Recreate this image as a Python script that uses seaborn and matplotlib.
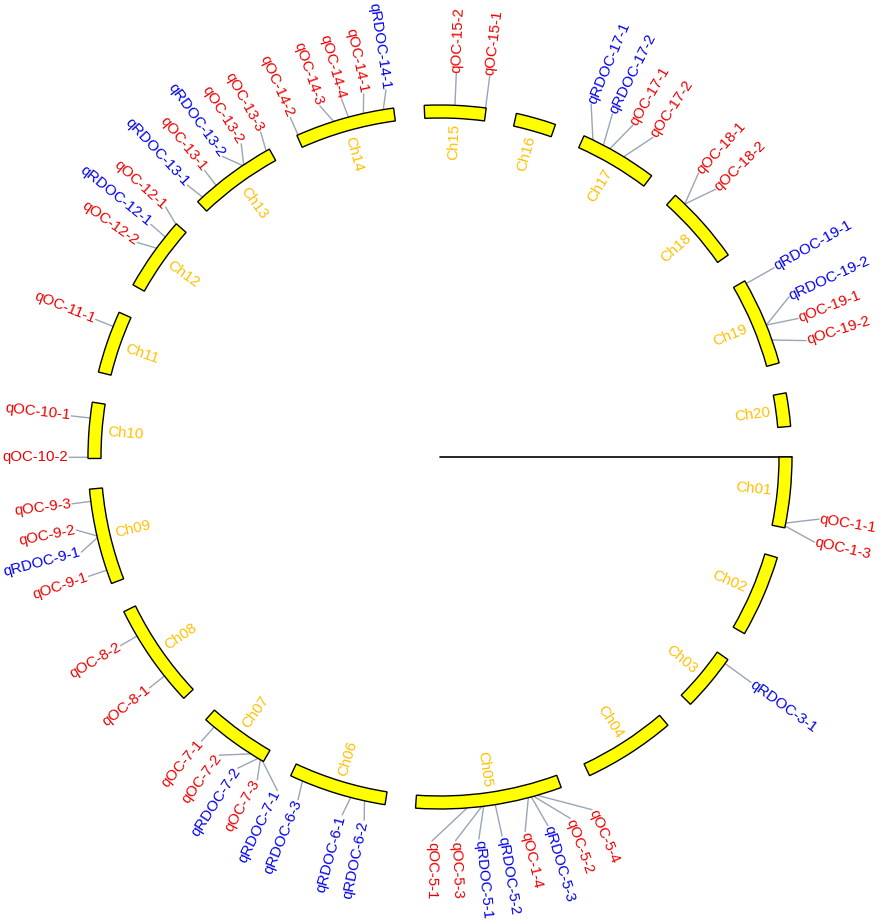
import numpy as np
import pandas as pd
import seaborn as sns
import matplotlib.pyplot as plt
from matplotlib import font_manager
from matplotlib.patches import Wedge

# chromosome lengths (map units) and QTL positions on them
chr_names = ['Ch01', 'Ch02', 'Ch03', 'Ch04', 'Ch05', 'Ch06', 'Ch07', 'Ch08', 'Ch09', 'Ch10',
             'Ch11', 'Ch12', 'Ch13', 'Ch14', 'Ch15', 'Ch16', 'Ch17', 'Ch18', 'Ch19', 'Ch20']
chr_len = [116, 135, 95, 152, 241, 161, 116, 172, 158, 92,
           103, 122, 145, 164, 101, 66, 128, 130, 145, 55]

qtl_names = ['qOC-1-1', 'qOC-1-3',
             'qRDOC-3-1',
             'qOC-5-4', 'qOC-5-2', 'qRDOC-5-3', 'qOC-1-4', 'qRDOC-5-2', 'qRDOC-5-1', 'qOC-5-3', 'qOC-5-1',
             'qRDOC-6-2', 'qRDOC-6-1', 'qRDOC-6-3',
             'qRDOC-7-1', 'qOC-7-3', 'qRDOC-7-2', 'qOC-7-2', 'qOC-7-1',
             'qOC-8-1', 'qOC-8-2',
             'qOC-9-1', 'qRDOC-9-1', 'qOC-9-2', 'qOC-9-3',
             'qOC-10-2', 'qOC-10-1',
             'qOC-11-1',
             'qOC-12-2', 'qRDOC-12-1', 'qOC-12-1',
             'qRDOC-13-1', 'qOC-13-1', 'qRDOC-13-2', 'qOC-13-2', 'qOC-13-3',
             'qOC-14-2', 'qOC-14-3', 'qOC-14-4', 'qOC-14-1', 'qRDOC-14-1',
             'qOC-15-2', 'qOC-15-1',
             'qRDOC-17-1', 'qRDOC-17-2', 'qOC-17-1', 'qOC-17-2',
             'qOC-18-1', 'qOC-18-2',
             'qRDOC-19-1', 'qRDOC-19-2', 'qOC-19-1', 'qOC-19-2']
qtl_chr = ['Ch01', 'Ch01',
           'Ch03',
           'Ch05', 'Ch05', 'Ch05', 'Ch05', 'Ch05', 'Ch05', 'Ch05', 'Ch05',
           'Ch06', 'Ch06', 'Ch06',
           'Ch07', 'Ch07', 'Ch07', 'Ch07', 'Ch07',
           'Ch08', 'Ch08',
           'Ch09', 'Ch09', 'Ch09', 'Ch09',
           'Ch10', 'Ch10',
           'Ch11',
           'Ch12', 'Ch12', 'Ch12',
           'Ch13', 'Ch13', 'Ch13', 'Ch13', 'Ch13',
           'Ch14', 'Ch14', 'Ch14', 'Ch14', 'Ch14',
           'Ch15', 'Ch15',
           'Ch17', 'Ch17', 'Ch17', 'Ch17',
           'Ch18', 'Ch18',
           'Ch19', 'Ch19', 'Ch19', 'Ch19']
qtl_pos = [108, 113,
           8,
           41, 47, 51, 56, 111, 130, 133, 157,
           34, 57, 140,
           2, 6, 10, 24, 98,
           48, 127,
           23, 78, 81, 138,
           2, 66,
           78,
           71, 94, 121,
           11, 40, 94, 96, 139,
           2, 64, 89, 114, 147,
           50, 100,
           16, 35, 47, 73,
           21, 21,
           5, 80, 80, 106]

sns.set_theme(style='white')
installed = {f.name for f in font_manager.fontManager.ttflist}
fams = [f for f in ['Liberation Sans Narrow', 'Liberation Sans'] if f in installed] + ['DejaVu Sans']
plt.rcParams['font.family'] = fams
narrow = 'Liberation Sans Narrow' in installed
fs = 12.3 if narrow else 10.8

cx, cy = 440, 457
r_out, width = 352, 13
r_lab_out, r_lab_in = 384, 371   # label radius for outward / flipped labels
gap = 5.0
scale = (360 - gap * len(chr_len)) / sum(chr_len)

starts = {}
a = 0.0
for name, L in zip(chr_names, chr_len):
    starts[name] = a
    a += L * scale + gap

def xy(r, th):
    t = np.deg2rad(th)
    return cx + r * np.cos(t), cy + r * np.sin(t)

def flipped(th):
    th = th % 360
    return 95 < th < 268

fig = plt.figure(figsize=(8.96, 9.24), dpi=100)
ax = fig.add_axes([0, 0, 1, 1])

# chromosomes
for name, L in zip(chr_names, chr_len):
    t1 = starts[name]
    t2 = t1 + L * scale
    ax.add_patch(Wedge((cx, cy), r_out, t1, t2, width=width,
                       facecolor='#FFFF00', edgecolor='black', lw=1.0, zorder=3))
    tm = (t1 + t2) / 2
    x, y = xy(r_out - width - 6, tm)
    if flipped(tm):
        ax.text(x, y, name, rotation=180 - tm, ha='left', va='center',
                rotation_mode='anchor', color='#FFC000', fontsize=fs)
    else:
        ax.text(x, y, name, rotation=-tm, ha='right', va='center',
                rotation_mode='anchor', color='#FFC000', fontsize=fs)

# radial start line
ax.plot([cx, xy(r_out, 0)[0]], [cy, cy], color='black', lw=1.2, zorder=2)

# QTL anchor angles and spread label angles
anchor = np.array([starts[c] + p * scale for c, p in zip(qtl_chr, qtl_pos)])
order = np.argsort(anchor, kind='stable')
lab = anchor[order].copy()
min_sep = 3.5
for _ in range(500):
    moved = False
    for i in range(len(lab) - 1):
        d = lab[i + 1] - lab[i]
        if d < min_sep - 1e-6:
            s = (min_sep - d) / 2
            lab[i] -= s
            lab[i + 1] += s
            moved = True
    if not moved:
        break
lab_angle = np.empty_like(lab)
lab_angle[order] = lab

rows = []
for k, n in enumerate(qtl_names):
    th = lab_angle[k]
    rl = r_lab_in if flipped(th) else r_lab_out
    x0, y0 = xy(r_out, anchor[k])
    x1, y1 = xy(rl, th)
    rows.append({'x': x0, 'y': y0, 'qtl': n})
    rows.append({'x': x1, 'y': y1, 'qtl': n})
seg = pd.DataFrame(rows)
sns.lineplot(data=seg, x='x', y='y', units='qtl', estimator=None, sort=False,
             color='#9AA5B5', lw=1.0, ax=ax, legend=False, zorder=1)

for k, n in enumerate(qtl_names):
    th = lab_angle[k]
    col = '#0000EE' if n.startswith('qRDOC') else '#EE0000'
    if flipped(th):
        x, y = xy(r_lab_in + 1, th)
        ax.text(x, y, n, rotation=180 - th, ha='right', va='center',
                rotation_mode='anchor', color=col, fontsize=fs)
    else:
        x, y = xy(r_lab_out + 1, th)
        ax.text(x, y, n, rotation=-th, ha='left', va='center',
                rotation_mode='anchor', color=col, fontsize=fs)

ax.set_xlim(0, 896)
ax.set_ylim(924, 0)
ax.axis('off')

fig.savefig('out.png', dpi=100)
